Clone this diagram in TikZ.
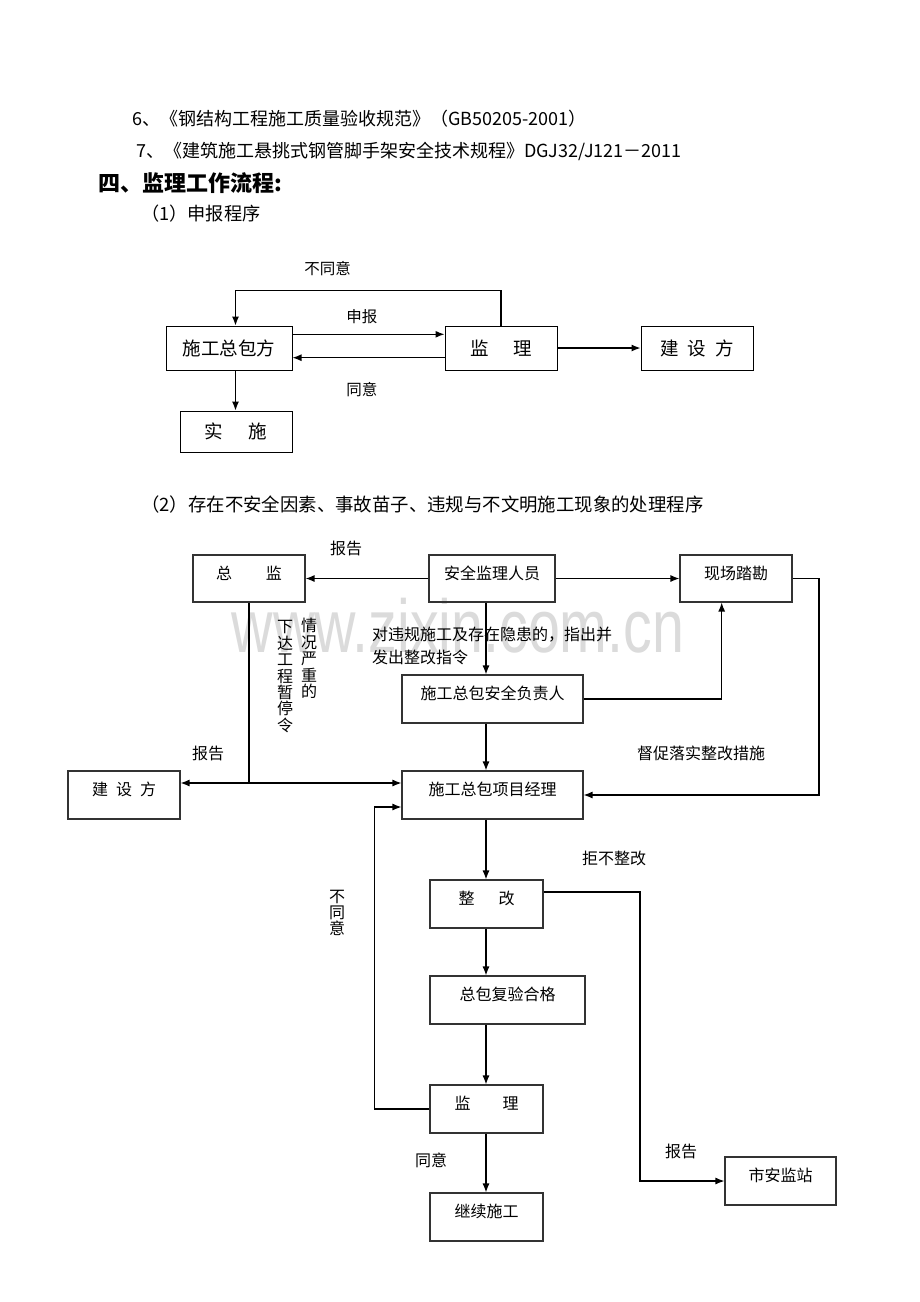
\documentclass[tikz,border=0pt]{standalone}
\usepackage{fontspec}
\setmainfont{Noto Sans CJK SC}
\newfontfamily\wmfont{Liberation Sans}
\usetikzlibrary{arrows.meta}
\begin{document}
\begin{tikzpicture}[x=1pt,y=-1pt,
  txt/.style={inner sep=0pt},
  box1/.style={draw=black, line width=1pt, minimum height=44pt, inner sep=0pt, font=\fontsize{18.5}{20}\selectfont},
  box2/.style={draw=black!80, line width=1.1pt, minimum height=48pt, inner sep=0pt, text height=11pt, text depth=10pt, font=\fontsize{16}{18}\selectfont},
  lab1/.style={inner sep=0pt, font=\fontsize{15.5}{17}\selectfont},
  lab2/.style={inner sep=0pt, font=\fontsize{16}{18}\selectfont},
  vtext/.style={inner sep=0pt, align=center, font=\fontsize{16}{16.4}\selectfont},
  arr/.style={-{Latex[length=9pt,width=7pt]}, line width=1.2pt},
  darr/.style={{Latex[length=9pt,width=7pt]}-{Latex[length=9pt,width=7pt]}, line width=1.2pt},
  ln/.style={line width=1.2pt},
]
\fill[white] (0,0) rectangle (920,1302);
\useasboundingbox (0,0) rectangle (920,1302);

% watermark
\node[anchor=base, inner sep=0pt, text=black!14, font=\wmfont\fontsize{75}{80}\selectfont] (wm) at (458,652) {\scalebox{0.765}[1]{www.zixin.com.cn}};

% header text
\node[txt, anchor=west, font=\fontsize{18}{20}\selectfont] (l6) at (132,119) {6、《钢结构工程施工质量验收规范》（GB50205-2001）};
\node[txt, anchor=west, font=\fontsize{18}{20}\selectfont] (l7) at (136,151) {7、《建筑施工悬挑式钢管脚手架安全技术规程》DGJ32/J121－2011};
\node[txt, anchor=west, font=\bfseries\fontsize{22}{24}\selectfont] (h4) at (98,183) {四、监理工作流程:};
\node[txt, anchor=west, font=\fontsize{18.2}{20}\selectfont] (p1) at (141,214) {（1）申报程序};
\node[txt, anchor=west, font=\fontsize{18.4}{20}\selectfont] (p2) at (141,504) {（2）存在不安全因素、事故苗子、违规与不文明施工现象的处理程序};

% ---------- diagram 1 ----------
\node[box1, minimum width=126pt] (sg) at (229,348) {施工总包方};
\node[box1, minimum width=112pt] (jl1) at (501,348) {监\hspace{1.35em}理};
\node[box1, minimum width=112pt] (js1) at (697,348) {建\hspace{0.5em}设\hspace{0.5em}方};
\node[box1, minimum width=112pt, minimum height=41pt] (ss) at (236,431.5) {实\hspace{1.4em}施};

\coordinate (fb) at (235.5,290.7);
\draw[arr] (jl1.north) -- (jl1.north |- fb) -- (fb) -- (fb |- sg.north);
\draw[arr] ([yshift=13.7pt]sg.east) -- ([yshift=13.7pt]jl1.west);
\draw[arr] ([yshift=-9.7pt]jl1.west) -- ([yshift=-9.7pt]sg.east);
\draw[arr] (jl1.east) -- (js1.west);
\draw[arr] (sg.south -| fb) -- (ss.north -| fb);

\node[lab1] (t1) at (327.7,269) {不同意};
\node[lab1] (t2) at (361.8,316.7) {申报};
\node[lab1] (t3) at (361.8,389.3) {同意};

% ---------- diagram 2 ----------
\coordinate (vx) at (486,0);
\node[box2, minimum width=112pt, minimum height=47pt] (zj) at (249,578.5) {总\hspace{2.1em}监};
\node[box2, minimum width=126pt, minimum height=47pt] (aq) at (492,578.5) {安全监理人员};
\node[box2, minimum width=112pt, minimum height=47pt] (xc) at (736,578.5) {现场踏勘};
\node[box2, minimum width=181pt] (fz) at (492.5,699) {施工总包安全负责人};
\node[box2, minimum width=181pt] (jl) at (492.5,795) {施工总包项目经理};
\node[box2, minimum width=112pt] (jsf) at (124,795) {建\hspace{0.5em}设\hspace{0.5em}方};
\node[box2, minimum width=113pt] (zg) at (486.5,904) {整\hspace{1.5em}改};
\node[box2, minimum width=155pt] (fy) at (507.5,1000) {总包复验合格};
\node[box2, minimum width=113pt] (jl2) at (486.5,1109) {监\hspace{2em}理};
\node[box2, minimum width=113pt] (jx) at (486.5,1217) {继续施工};
\node[box2, minimum width=111pt] (sa) at (780.5,1181) {市安监站};

\draw[arr] (aq.west) -- (zj.east);
\draw[arr] (aq.east) -- (xc.west);
\draw[arr] (aq.south -| vx) -- (fz.north -| vx);
\draw[arr] (fz.east) -| ([xshift=-14.3pt]xc.south);
\draw[arr] (fz.south -| vx) -- (jl.north -| vx);
\coordinate (rq) at (819,578.5);
\draw[arr] (xc.east) -- (rq) |- (jl.east);
\coordinate (hj) at (249,783);
\draw[ln] (zj.south) -- (hj);
\draw[darr] ([yshift=12pt]jsf.east) -- ([yshift=12pt]jl.west);
\draw[arr] (jl.south -| vx) -- (zg.north -| vx);
\draw[arr] (zg.south -| vx) -- (fy.north -| vx);
\draw[arr] (fy.south -| vx) -- (jl2.north -| vx);
\draw[arr] (jl2.south -| vx) -- (jx.north -| vx);
\coordinate (lp) at (374.7,1109);
\draw[arr] (jl2.west) -- (lp) |- ([yshift=-12pt]jl.west);
\coordinate (rp) at (640,892);
\draw[arr] ([yshift=12pt]zg.east) -- (rp) |- (sa.west);

\node[lab2] (b1) at (346,548) {报告};
\node[lab2] (b2) at (208,753) {报告};
\node[lab2] (b3) at (701,753) {督促落实整改措施};
\node[lab2] (b4) at (614,858) {拒不整改};
\node[lab2] (b5) at (681,1151) {报告};
\node[lab2] (b6) at (431,1160) {同意};
\node[vtext, font=\fontsize{16}{16}\selectfont] (b7) at (337,913) {不\\同\\意};
\node[vtext] (v1) at (309,658.5) {情\\况\\严\\重\\的};
\node[vtext] (v2) at (285,676.7) {下\\达\\工\\程\\暂\\停\\令};
\node[lab2, align=left, anchor=west, font=\fontsize{16}{23}\selectfont] (b8) at (372,645.5) {对违规施工及存在隐患的，指出并\\发出整改指令};
\end{tikzpicture}
\end{document}
